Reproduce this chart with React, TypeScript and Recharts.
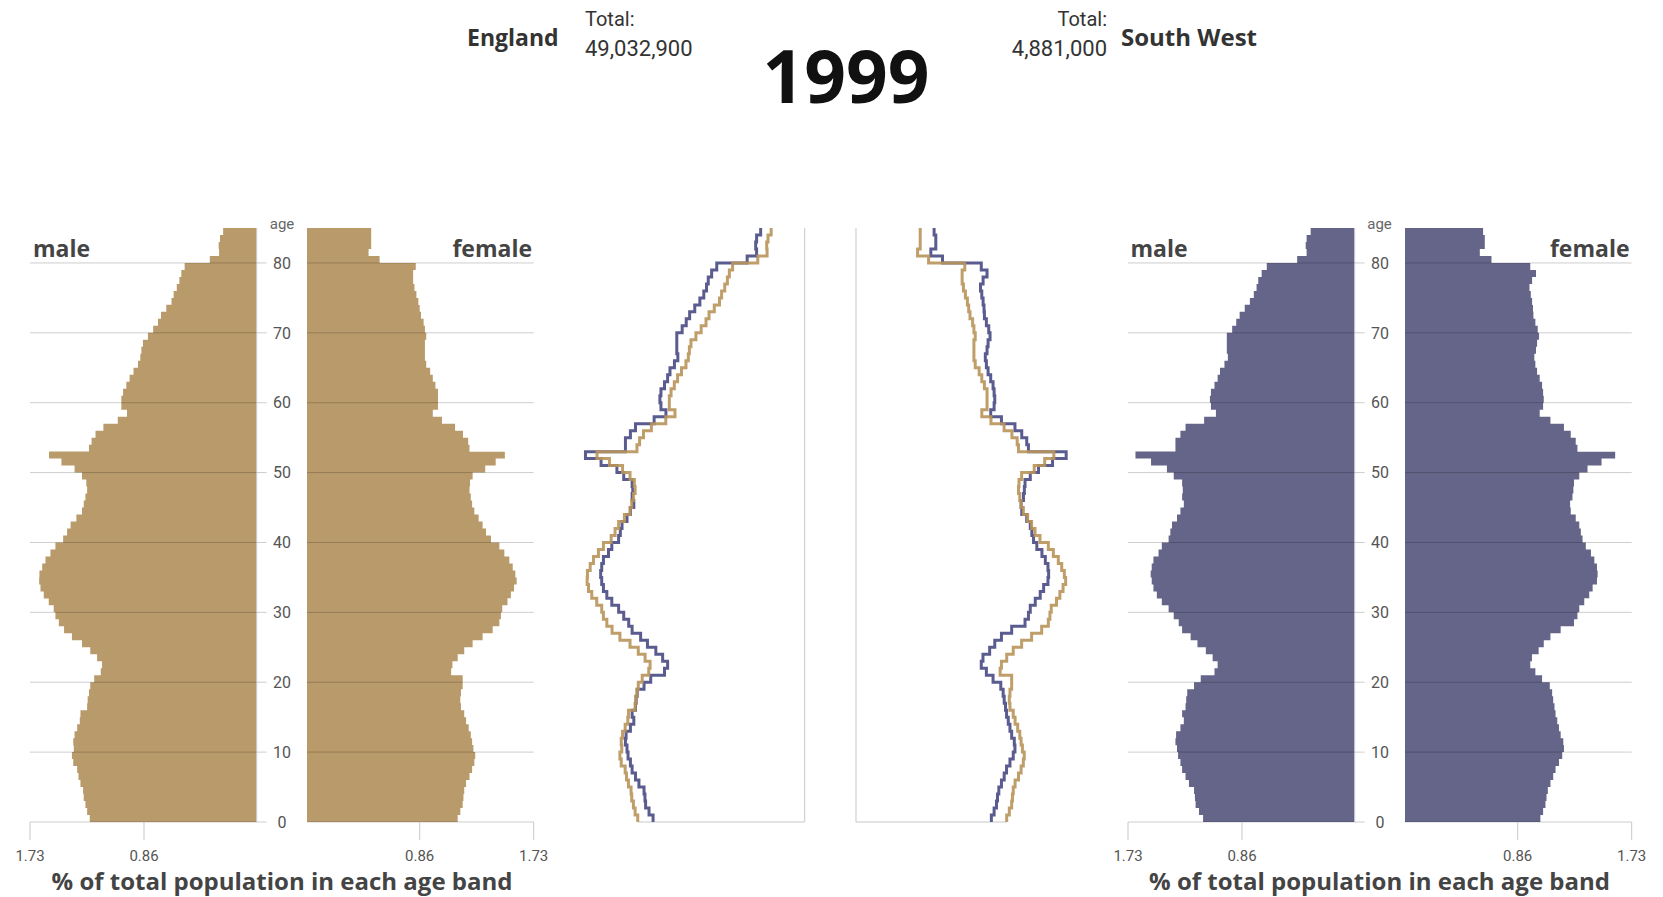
import { Area, ComposedChart, Line, ReferenceLine, XAxis, YAxis } from "recharts"

// % of total population by single year of age (0..84), 1999
const engMale = [
  1.274, 1.294, 1.307, 1.32, 1.325, 1.345, 1.36, 1.37, 1.4, 1.41,
  1.396, 1.4, 1.39, 1.37, 1.35, 1.345, 1.294, 1.29, 1.28, 1.27,
  1.24, 1.19, 1.18, 1.218, 1.27, 1.333, 1.41, 1.47, 1.51, 1.536,
  1.549, 1.587, 1.625, 1.65, 1.66, 1.658, 1.637, 1.612, 1.574, 1.536,
  1.477, 1.447, 1.42, 1.376, 1.333, 1.32, 1.307, 1.294, 1.3, 1.333,
  1.39, 1.49, 1.585, 1.28, 1.26, 1.23, 1.17, 1.06, 0.99, 1.033,
  1.033, 1.02, 0.995, 0.97, 0.94, 0.906, 0.888, 0.88, 0.868, 0.83,
  0.79, 0.753, 0.73, 0.69, 0.65, 0.634, 0.61, 0.59, 0.575, 0.55,
  0.358, 0.287, 0.29, 0.28, 0.256,
]
const engFemale = [
  1.15, 1.17, 1.188, 1.194, 1.2, 1.214, 1.24, 1.26, 1.277, 1.284,
  1.27, 1.26, 1.25, 1.234, 1.214, 1.2, 1.175, 1.17, 1.175, 1.188,
  1.188, 1.1, 1.11, 1.15, 1.2, 1.264, 1.34, 1.417, 1.468, 1.48,
  1.49, 1.53, 1.556, 1.58, 1.6, 1.59, 1.57, 1.544, 1.506, 1.468,
  1.404, 1.366, 1.34, 1.31, 1.277, 1.26, 1.25, 1.24, 1.244, 1.264,
  1.36, 1.44, 1.51, 1.24, 1.23, 1.19, 1.13, 1.03, 0.96, 1.0,
  1.0, 1.0, 0.98, 0.96, 0.94, 0.91, 0.9, 0.9, 0.9, 0.91,
  0.9, 0.89, 0.87, 0.86, 0.85, 0.835, 0.82, 0.81, 0.81, 0.83,
  0.554, 0.47, 0.49, 0.49, 0.49,
]
const swMale = [
  1.157, 1.188, 1.214, 1.219, 1.226, 1.265, 1.291, 1.317, 1.33, 1.348,
  1.356, 1.368, 1.363, 1.33, 1.304, 1.317, 1.291, 1.286, 1.278, 1.226,
  1.175, 1.07, 1.046, 1.084, 1.136, 1.2, 1.252, 1.317, 1.343, 1.381,
  1.42, 1.472, 1.51, 1.536, 1.549, 1.557, 1.549, 1.536, 1.497, 1.472,
  1.42, 1.407, 1.394, 1.356, 1.33, 1.304, 1.317, 1.312, 1.317, 1.381,
  1.433, 1.554, 1.673, 1.368, 1.368, 1.33, 1.291, 1.149, 1.059, 1.097,
  1.105, 1.097, 1.07, 1.046, 1.028, 0.994, 0.968, 0.976, 0.976, 0.976,
  0.935, 0.904, 0.878, 0.839, 0.8, 0.77, 0.749, 0.736, 0.71, 0.671,
  0.439, 0.367, 0.374, 0.367, 0.336,
]
const swFemale = [
  1.033, 1.054, 1.072, 1.08, 1.09, 1.11, 1.131, 1.149, 1.175, 1.2,
  1.213, 1.208, 1.188, 1.175, 1.162, 1.149, 1.141, 1.131, 1.123, 1.105,
  1.046, 0.995, 0.956, 0.969, 1.02, 1.059, 1.11, 1.188, 1.29, 1.316,
  1.33, 1.368, 1.406, 1.432, 1.465, 1.47, 1.465, 1.445, 1.419, 1.38,
  1.355, 1.342, 1.33, 1.303, 1.265, 1.26, 1.278, 1.285, 1.29, 1.33,
  1.393, 1.5, 1.604, 1.316, 1.303, 1.265, 1.213, 1.11, 1.028, 1.054,
  1.059, 1.054, 1.046, 1.028, 1.008, 0.995, 0.987, 1.0, 1.008, 1.023,
  1.013, 0.995, 0.98, 0.977, 0.97, 0.96, 0.95, 0.97, 1.0, 0.956,
  0.66, 0.571, 0.609, 0.609, 0.596,
]

const AGE_TICKS = [0, 10, 20, 30, 40, 50, 60, 70, 80]
const X_TICKS = [0.86, 1.73]
const MAX = 1.73
const TOP_AGE = 85

const TAN = "#b99a6a"
const PURPLE = "#646589"
const TAN_LINE = "#b8935a"
const PURPLE_LINE = "#5a5b8f"
const AXIS = "#c8c8c8"
const TEXT = "#444"

// layout (page px)
const CHART_TOP = 200
const CHART_H = 697
const PLOT_TOP = 228
const PLOT_BOTTOM = 822
const PW = 226.7
const GAP = 50.6
const EDGE = 30

// step rows: band a drawn from age a to a+1
const toSteps = (eng: number[], sw?: number[]) => [
  { age: 0, eng: eng[0], sw: sw ? sw[0] : undefined },
  ...eng.map((v, i) => ({ age: i + 1, eng: v, sw: sw ? sw[i] : undefined })),
]

const gridLines = AGE_TICKS.map((a) => (
  <ReferenceLine key={a} y={a} stroke="#000" strokeOpacity={0.2} strokeWidth={1} />
))

function PyramidHalf({ side, plotLeft, values, color }: { side: string; plotLeft: number; values: number[]; color: string }) {
  const male = side === "male"
  const rows = toSteps(values)
  const padL = male ? EDGE : 20
  const padR = male ? GAP : EDGE
  const width = padL + PW + padR
  return (
    <div style={{ position: "absolute", left: plotLeft - padL, top: CHART_TOP }}>
      <ComposedChart
        layout="vertical"
        width={width}
        height={CHART_H}
        data={rows}
        margin={{ top: PLOT_TOP - CHART_TOP, right: male ? 0 : padR, bottom: 0, left: male ? padL : 0 }}
      >
        <XAxis
          type="number"
          domain={[0, MAX]}
          reversed={male}
          ticks={X_TICKS}
          interval={0}
          allowDataOverflow
          axisLine={false}
          tickSize={18}
          tickMargin={10}
          height={CHART_H - (PLOT_BOTTOM - CHART_TOP)}
          tickLine={{ stroke: AXIS }}
          tick={{ fill: "#555", fontSize: 15, fontFamily: "Roboto, sans-serif" }}
        />
        <YAxis
          type="number"
          dataKey="age"
          domain={[0, TOP_AGE]}
          reversed
          ticks={AGE_TICKS}
          interval={0}
          orientation={male ? "right" : "left"}
          width={male ? GAP : 20}
          tickSize={10}
          tickMargin={0}
          axisLine={male ? { stroke: AXIS } : false}
          tickLine={{ stroke: "#000", strokeOpacity: 0.2 }}
          tick={
            male
              ? (p: any) => (
                  <text
                    x={p.x + GAP / 2 - 10}
                    y={p.y}
                    dy="0.36em"
                    textAnchor="middle"
                    fill="#555"
                    fontSize={16}
                    fontFamily="Roboto, sans-serif"
                  >
                    {p.payload.value}
                  </text>
                )
              : false
          }
        />
        <Area
          dataKey="eng"
          type="stepAfter"
          fill={color}
          fillOpacity={1}
          stroke="none"
          baseValue={0}
          isAnimationActive={false}
        />
        {gridLines}
      </ComposedChart>
    </div>
  )
}

function Outline({ side, plotLeft, eng, sw }: { side: string; plotLeft: number; eng: number[]; sw: number[] }) {
  const male = side === "male"
  const rows = toSteps(eng, sw)
  const padL = male ? 10 : 15
  const padR = male ? 15 : 10
  return (
    <div style={{ position: "absolute", left: plotLeft - padL, top: CHART_TOP }}>
      <ComposedChart
        layout="vertical"
        width={padL + PW + padR}
        height={CHART_H}
        data={rows}
        margin={{
          top: PLOT_TOP - CHART_TOP,
          right: male ? 0 : padR,
          bottom: CHART_H - (PLOT_BOTTOM - CHART_TOP),
          left: male ? padL : 0,
        }}
      >
        <XAxis type="number" domain={[0, MAX]} reversed={male} hide allowDataOverflow />
        <YAxis
          type="number"
          dataKey="age"
          domain={[0, TOP_AGE]}
          reversed
          orientation={male ? "right" : "left"}
          width={15}
          tick={false}
          tickLine={false}
          axisLine={{ stroke: AXIS }}
        />
        <ReferenceLine
          segment={[
            { x: eng[0], y: 0 },
            { x: 0, y: 0 },
          ]}
          stroke={AXIS}
        />
        <Line
          dataKey="sw"
          type="stepAfter"
          stroke={PURPLE_LINE}
          strokeWidth={3}
          dot={false}
          activeDot={false}
          isAnimationActive={false}
        />
        <Line
          dataKey="eng"
          type="stepAfter"
          stroke={TAN_LINE}
          strokeOpacity={0.9}
          strokeWidth={3}
          dot={false}
          activeDot={false}
          isAnimationActive={false}
        />
      </ComposedChart>
    </div>
  )
}

function PanelText({ center, left, right }: { center: number; left: number; right: number }) {
  return (
    <>
      <text x={center} y={229} textAnchor="middle" fontSize={15} fill="#666" fontFamily="Roboto, sans-serif">
        age
      </text>
      <text x={left + 3} y={257} fontSize={23} fontWeight={700} fill={TEXT}>
        male
      </text>
      <text x={right - 2} y={257} textAnchor="end" fontSize={23} fontWeight={700} fill={TEXT}>
        female
      </text>
      <text x={center} y={890} textAnchor="middle" fontSize={24} fontWeight={700} fill={TEXT}>
        % of total population in each age band
      </text>
    </>
  )
}

export default function App() {
  const leftMale = 30
  const leftFemale = leftMale + PW + GAP
  const rightMale = 1127.5
  const rightFemale = rightMale + PW + GAP
  return (
    <div
      style={{
        position: "absolute",
        left: 0,
        top: 0,
        width: 1663,
        height: 897,
        background: "#fff",
        overflow: "hidden",
        fontFamily: "'Open Sans', sans-serif",
      }}
    >
      <PyramidHalf side="male" plotLeft={leftMale} values={engMale} color={TAN} />
      <PyramidHalf side="female" plotLeft={leftFemale} values={engFemale} color={TAN} />
      <Outline side="male" plotLeft={805 - PW} eng={engMale} sw={swMale} />
      <Outline side="female" plotLeft={856} eng={engFemale} sw={swFemale} />
      <PyramidHalf side="male" plotLeft={rightMale} values={swMale} color={PURPLE} />
      <PyramidHalf side="female" plotLeft={rightFemale} values={swFemale} color={PURPLE} />

      <svg
        width={1663}
        height={897}
        style={{ position: "absolute", left: 0, top: 0, pointerEvents: "none", fontFamily: "'Open Sans', sans-serif" }}
      >
        <text x={467} y={46} fontSize={23} fontWeight={700} fill="#333">
          England
        </text>
        <text x={585} y={26} fontSize={20} fill="#333" fontFamily="Roboto, sans-serif">
          Total:
        </text>
        <text x={585} y={56} fontSize={22} fill="#333" fontFamily="Roboto, sans-serif">
          49,032,900
        </text>
        <text x={846} y={103} textAnchor="middle" fontSize={73} fontWeight={700} fill="#111">
          1999
        </text>
        <text x={1107} y={26} textAnchor="end" fontSize={20} fill="#333" fontFamily="Roboto, sans-serif">
          Total:
        </text>
        <text x={1107} y={56} textAnchor="end" fontSize={22} fill="#333" fontFamily="Roboto, sans-serif">
          4,881,000
        </text>
        <text x={1121} y={46} fontSize={24} fontWeight={700} fill="#333">
          South West
        </text>
        <PanelText center={leftMale + PW + GAP / 2} left={leftMale} right={leftFemale + PW} />
        <PanelText center={rightMale + PW + GAP / 2} left={rightMale} right={rightFemale + PW} />
      </svg>
    </div>
  )
}
